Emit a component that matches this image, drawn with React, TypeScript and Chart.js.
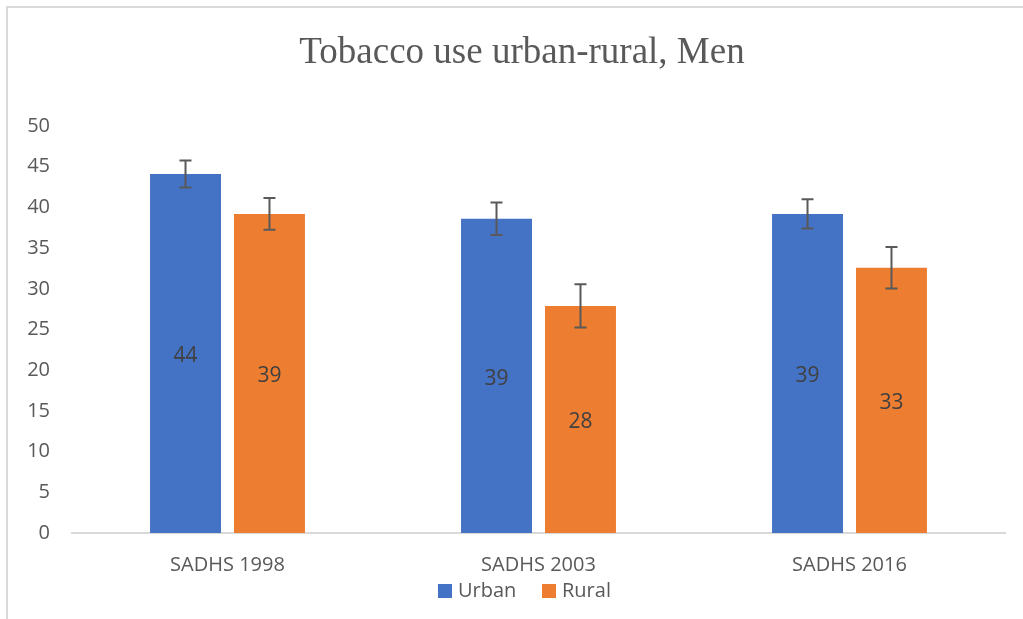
import React, { useEffect, useRef } from "react";
import { Chart, registerables } from "chart.js";

Chart.register(...registerables);

const categories = ["SADHS 1998", "SADHS 2003", "SADHS 2016"];
const urbanValues = [44.1, 38.6, 39.2];
const ruralValues = [39.2, 27.9, 32.6];
const urbanErrors = [1.65, 2.0, 1.8];
const ruralErrors = [1.95, 2.65, 2.55];
const seriesNames = ["Urban", "Rural"];
const colors = ["#4472C4", "#ED7D31"];
const titleText = "Tobacco use urban-rural, Men";
const FONT = "'Open Sans', 'Noto Sans', sans-serif";

const errorsBySeries = [urbanErrors, ruralErrors];

const customPlugin = {
  id: "custom",
  afterDatasetsDraw(chart: any) {
    const ctx = chart.ctx;
    const y = chart.scales.y;
    ctx.save();
    chart.data.datasets.forEach((ds: any, di: number) => {
      const meta = chart.getDatasetMeta(di);
      meta.data.forEach((bar: any, i: number) => {
        const v = ds.data[i];
        ctx.fillStyle = "#404040";
        ctx.font = `21px ${FONT}`;
        ctx.textAlign = "center";
        ctx.textBaseline = "middle";
        const mid = (bar.y + bar.base) / 2 + 3;
        ctx.fillText(String(Math.round(v)), bar.x, mid);
        const e = errorsBySeries[di][i];
        const yt = y.getPixelForValue(v + e);
        const yb = y.getPixelForValue(v - e);
        ctx.strokeStyle = "#595959";
        ctx.lineWidth = 2;
        ctx.beginPath();
        ctx.moveTo(bar.x, yt);
        ctx.lineTo(bar.x, yb);
        ctx.moveTo(bar.x - 6, yt);
        ctx.lineTo(bar.x + 6, yt);
        ctx.moveTo(bar.x - 6, yb);
        ctx.lineTo(bar.x + 6, yb);
        ctx.stroke();
      });
    });
    ctx.fillStyle = "#595959";
    ctx.font = `37px 'Liberation Serif', 'Times New Roman', serif`;
    ctx.textAlign = "center";
    ctx.textBaseline = "alphabetic";
    ctx.fillText(titleText, 522, 63);
    ctx.font = `20px ${FONT}`;
    ctx.textAlign = "left";
    ctx.textBaseline = "middle";
    const lx = [438, 542];
    seriesNames.forEach((n, k) => {
      ctx.fillStyle = colors[k];
      ctx.fillRect(lx[k], 584, 14, 14);
      ctx.fillStyle = "#595959";
      ctx.fillText(n, lx[k] + 20, 591);
    });
    ctx.strokeStyle = "#D9D9D9";
    ctx.lineWidth = 2;
    ctx.beginPath();
    ctx.moveTo(7, 619);
    ctx.lineTo(7, 7);
    ctx.lineTo(1023, 7);
    ctx.stroke();
    ctx.restore();
  },
};

export default function App() {
  const ref = useRef<HTMLCanvasElement>(null);
  useEffect(() => {
    document.body.style.margin = "0";
    document.body.style.overflow = "hidden";
    const chart = new Chart(ref.current!, {
      type: "bar",
      data: {
        labels: categories,
        datasets: [
          { label: seriesNames[0], data: urbanValues, backgroundColor: colors[0], categoryPercentage: 0.54, barPercentage: 0.845 },
          { label: seriesNames[1], data: ruralValues, backgroundColor: colors[1], categoryPercentage: 0.54, barPercentage: 0.845 },
        ],
      },
      options: {
        responsive: false,
        animation: false,
        layout: { padding: { top: 126, bottom: 36, right: 18, left: 0 } },
        plugins: {
          legend: { display: false },
          title: { display: false },
          tooltip: { enabled: false },
        },
        scales: {
          x: {
            grid: { display: false, drawTicks: false },
            border: { display: true, color: "#D9D9D9", width: 2 },
            ticks: { color: "#595959", font: { family: FONT, size: 20 }, padding: 20 },
            afterFit: (s: any) => { s.height = 50; },
          },
          y: {
            min: 0,
            max: 50,
            grid: { display: false, drawTicks: false },
            border: { display: false },
            ticks: { stepSize: 5, color: "#595959", font: { family: FONT, size: 20 }, padding: 22 },
            afterFit: (s: any) => { s.width = 72; },
          },
        },
      },
      plugins: [customPlugin],
    });
    return () => chart.destroy();
  }, []);
  return (
    <canvas
      ref={ref}
      width={1023}
      height={619}
      style={{ position: "fixed", left: 0, top: 0, width: 1023, height: 619 }}
    />
  );
}
